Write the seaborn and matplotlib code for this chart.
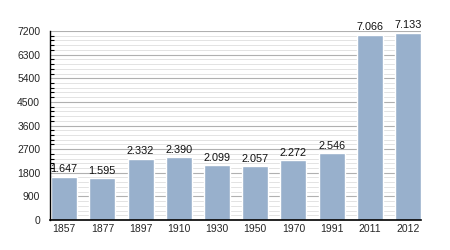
import matplotlib
matplotlib.use("Agg")
import matplotlib.pyplot as plt
import seaborn as sns
import pandas as pd
from matplotlib.ticker import MultipleLocator

years = ["1857", "1877", "1897", "1910", "1930", "1950", "1970", "1991", "2011", "2012"]
population = [1647, 1595, 2332, 2390, 2099, 2057, 2272, 2546, 7066, 7133]
value_labels = ["1.647", "1.595", "2.332", "2.390", "2.099", "2.057", "2.272", "2.546", "7.066", "7.133"]

sns.set_theme(style="white")
plt.rcParams['font.family'] = ['Liberation Sans', 'DejaVu Sans']

df = pd.DataFrame({"year": years, "pop": population})

fig = plt.figure(figsize=(4.5, 2.5), dpi=100)
ax = fig.add_axes([0.111, 0.12, 0.825, 0.756])

ax.set_ylim(0, 7200)
ax.yaxis.set_major_locator(MultipleLocator(900))
ax.yaxis.set_minor_locator(MultipleLocator(180))
ax.grid(True, which="major", axis="y", color="#b0b0b0", linewidth=0.8, zorder=0)
ax.grid(True, which="minor", axis="y", color="#e3e3e3", linewidth=0.7, zorder=0)
ax.set_axisbelow(True)

sns.barplot(data=df, x="year", y="pop", color="#98b0cc", saturation=1, width=0.68, ax=ax, zorder=3)

for i, (v, lab) in enumerate(zip(population, value_labels)):
    ax.text(i, v + 90, lab, ha="center", va="bottom", fontsize=7.8, color="#111111")

ax.set_xlim(-0.37, 9.34)
ax.set_xlabel("")
ax.set_ylabel("")
for s in ["top", "right"]:
    ax.spines[s].set_visible(False)
for s in ["left", "bottom"]:
    ax.spines[s].set_color("black")
    ax.spines[s].set_zorder(5)
ax.spines["left"].set_linewidth(1.0)
ax.spines["bottom"].set_linewidth(1.2)

ax.tick_params(axis="y", which="major", direction="out", length=5, width=0.8, color="black", labelsize=7.5, pad=2)
ax.tick_params(axis="y", which="minor", direction="in", length=3, width=0.8, color="black", left=True)
ax.tick_params(axis="x", which="both", length=0, labelsize=7.5, pad=3)

fig.savefig("out.png", dpi=100)
